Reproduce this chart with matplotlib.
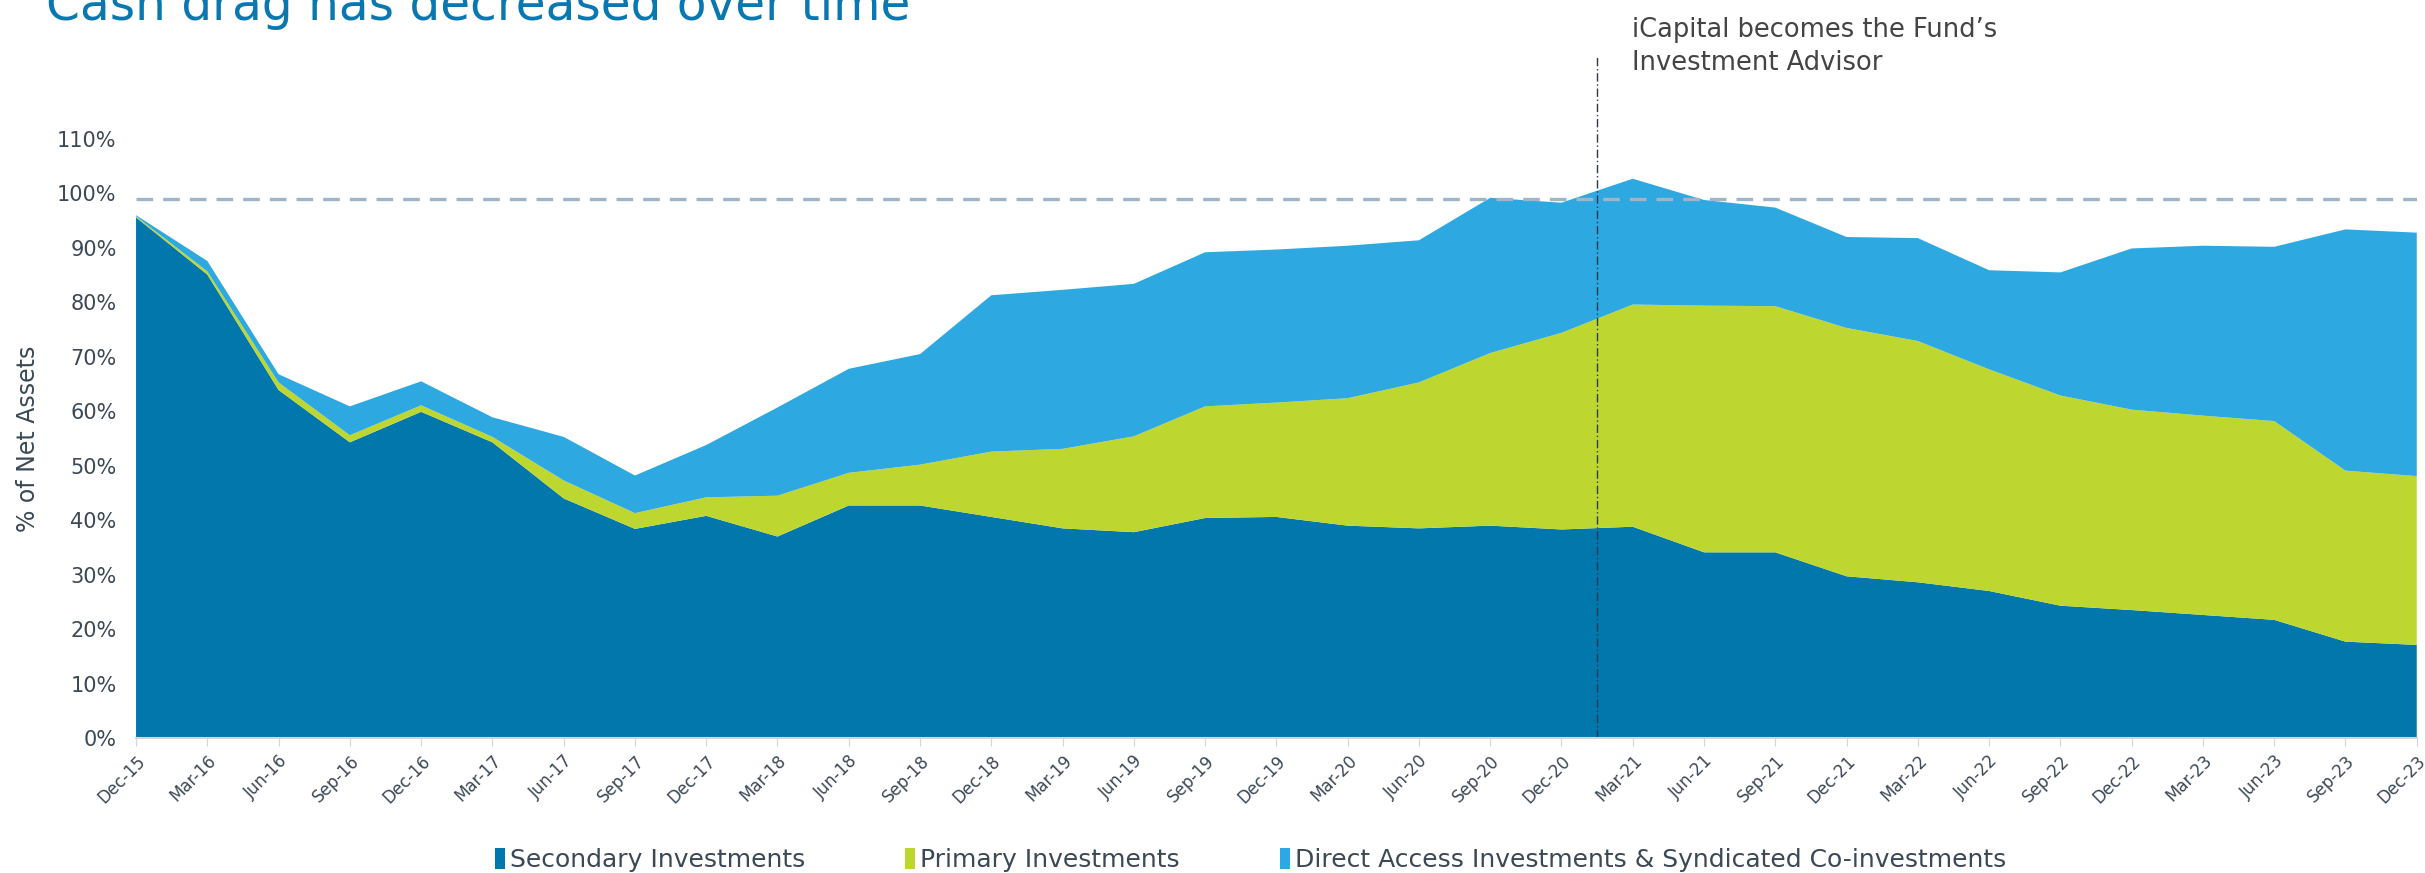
import numpy as np
import matplotlib
matplotlib.use("Agg")
import matplotlib.pyplot as plt
import matplotlib.transforms as mtransforms
from matplotlib.patches import Patch

# quarter-end labels
quarters = ["Dec-15", "Mar-16", "Jun-16", "Sep-16", "Dec-16", "Mar-17", "Jun-17", "Sep-17",
            "Dec-17", "Mar-18", "Jun-18", "Sep-18", "Dec-18", "Mar-19", "Jun-19", "Sep-19",
            "Dec-19", "Mar-20", "Jun-20", "Sep-20", "Dec-20", "Mar-21", "Jun-21", "Sep-21",
            "Dec-21", "Mar-22", "Jun-22", "Sep-22", "Dec-22", "Mar-23", "Jun-23", "Sep-23",
            "Dec-23"]

# % of net assets, stacked
secondary = [95.6, 85.1, 63.9, 54.3, 59.9, 54.3, 44.0, 38.4, 40.8, 37.0, 42.7, 42.7,
             40.6, 38.5, 37.8, 40.4, 40.6, 39.0, 38.5, 39.0, 38.3, 38.8, 34.1, 34.1,
             29.7, 28.6, 27.0, 24.3, 23.5, 22.6, 21.7, 17.7, 17.1]
primary = [0.2, 0.6, 1.4, 1.3, 1.2, 1.0, 3.3, 2.9, 3.4, 7.5, 6.0, 7.5,
           12.0, 14.6, 17.6, 20.5, 21.0, 23.4, 26.8, 31.7, 36.1, 40.8, 45.3, 45.2,
           45.6, 44.3, 40.7, 38.6, 36.8, 36.6, 36.5, 31.4, 31.0]
direct = [0.2, 1.9, 1.5, 5.3, 4.4, 3.6, 8.0, 6.9, 9.6, 16.2, 19.1, 20.3,
          28.7, 29.2, 28.0, 28.3, 28.1, 28.0, 26.1, 28.5, 23.9, 23.1, 19.4, 18.1,
          16.7, 18.9, 18.2, 22.6, 29.6, 31.2, 32.0, 44.3, 44.7]

series_names = ["Secondary Investments", "Primary Investments",
                "Direct Access Investments & Syndicated Co-investments"]
colors = ["#0177AB", "#BED730", "#2EA8E0"]

yticks = list(range(0, 111, 10))
target_line = 99          # dashed reference level
advisor_change = 20.5     # between Dec-20 and Mar-21
advisor_line_top = 125.5

text_col = "#3b4856"

fig = plt.figure(figsize=(24.25, 8.73), dpi=100)
ax = fig.add_axes([0.0561, 0.1546, 0.9405, 0.6862])

x = np.arange(len(quarters))
ax.stackplot(x, secondary, primary, direct, colors=colors, linewidth=0)

ax.plot([0, len(quarters) - 1], [target_line, target_line], color="#9fb6c8",
        lw=2.4, ls=(0, (5, 3)))
ax.plot([advisor_change, advisor_change], [0, advisor_line_top], color="#2b3a4a",
        lw=1.0, ls=(0, (6, 2, 1, 2)), clip_on=False)

ax.set_xlim(0, len(quarters) - 1)
ax.set_ylim(0, 110)
ax.set_yticks(yticks)
ax.set_yticklabels([f"{v}%" for v in yticks], fontsize=15, color=text_col)
ax.set_xticks(x)
ax.set_xticklabels(quarters, rotation=45, ha="right", rotation_mode="anchor",
                   fontsize=12, color=text_col)
shift = mtransforms.ScaledTranslation(-3 / 100, 0, fig.dpi_scale_trans)
for lab in ax.get_xticklabels():
    lab.set_transform(lab.get_transform() + shift)
ax.tick_params(axis="y", length=0, pad=14)
ax.tick_params(axis="x", length=6, color="#cdd7df", pad=4)

for s in ["top", "right", "left"]:
    ax.spines[s].set_visible(False)
ax.spines["bottom"].set_color("#cdd7df")
ax.spines["bottom"].set_linewidth(1.5)

ax.set_ylabel("% of Net Assets", fontsize=17, color=text_col, labelpad=12)

fig.text(0.019, 1 - 20 / 873, "Cash drag has decreased over time", fontsize=35,
         color="#0a78b0", va="baseline", ha="left")
fig.text(0.673, 1 - 17 / 873, "iCapital becomes the Fund\u2019s\nInvestment Advisor",
         fontsize=18.5, color="#444444", va="top", ha="left", linespacing=1.35)

handles = [Patch(facecolor=c, edgecolor="none") for c in colors]
fig.legend(handles, series_names, loc="center", bbox_to_anchor=(0.5157, 0.015),
           ncol=3, frameon=False, fontsize=18, labelcolor=text_col,
           handlelength=0.4, handleheight=0.9, handletextpad=0.2,
           columnspacing=4.0)

fig.savefig("out.png", dpi=100, facecolor="white")
